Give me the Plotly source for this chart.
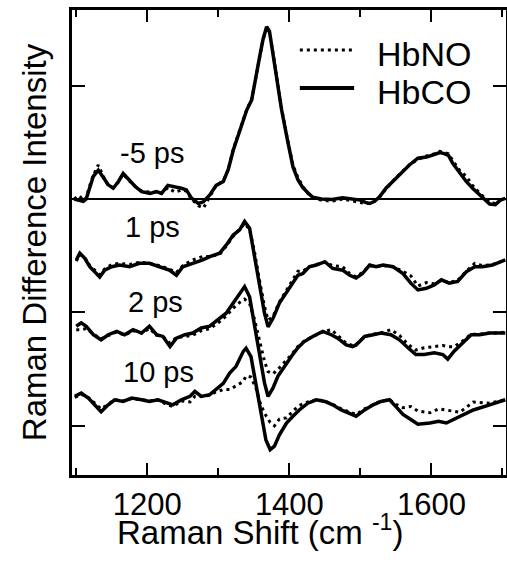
import plotly.graph_objects as go

# ---------------- data (Raman shift, cm-1 ; difference intensity, arb. units) ----------------
x_m5 = [1097, 1104, 1110, 1114, 1118, 1124, 1131, 1138, 1145, 1152, 1159, 1166, 1173, 1183, 1192, 1204,
        1213, 1220, 1229, 1239, 1248, 1255, 1262, 1272, 1279, 1288, 1297, 1307, 1314, 1321, 1327, 1333,
        1340, 1347, 1353, 1358, 1363, 1368, 1372, 1377, 1383, 1389, 1397, 1405, 1412, 1419, 1426, 1433,
        1445, 1460, 1475, 1490, 1500, 1507, 1513, 1520, 1527, 1536, 1546, 1557, 1569, 1581, 1593, 1605,
        1612, 1618, 1624, 1630, 1640, 1649, 1658, 1668, 1676, 1682, 1690, 1697, 1704]
hbco_m5 = [0.0, -0.01, -0.02, 0.0, 0.09, 0.2, 0.255, 0.195, 0.125, 0.095, 0.15, 0.225, 0.18, 0.11, 0.065, 0.05,
           0.065, 0.05, 0.12, 0.11, 0.095, 0.08, 0.01, -0.04, -0.025, 0.035, 0.12, 0.155, 0.26, 0.43, 0.54, 0.65,
           0.785, 0.875, 1.06, 1.25, 1.41, 1.52, 1.48, 1.285, 1.03, 0.79, 0.53, 0.285, 0.17, 0.1, 0.055, 0.015,
           0.0, -0.005, 0.01, 0.0, -0.01, -0.03, -0.04, -0.02, 0.02, 0.095, 0.16, 0.225, 0.3, 0.36, 0.37, 0.395,
           0.41, 0.4, 0.385, 0.315, 0.225, 0.155, 0.095, 0.035, -0.01, -0.045, -0.05, -0.01, 0.005]
hbno_m5 = [0.0, 0.03, -0.01, 0.01, 0.1, 0.21, 0.3, 0.2, 0.12, 0.1, 0.15, 0.22, 0.17, 0.11, 0.07, 0.06,
           0.06, 0.05, 0.1, 0.06, 0.08, 0.07, 0.0, -0.06, -0.08, 0.02, 0.12, 0.16, 0.26, 0.44, 0.55, 0.66,
           0.79, 0.88, 1.07, 1.25, 1.41, 1.51, 1.47, 1.29, 1.04, 0.8, 0.54, 0.3, 0.19, 0.11, 0.05, 0.01,
           -0.01, -0.02, 0.0, -0.02, -0.03, -0.04, -0.04, -0.02, 0.02, 0.09, 0.16, 0.23, 0.3, 0.35, 0.38, 0.4,
           0.42, 0.41, 0.4, 0.34, 0.25, 0.2, 0.12, 0.05, 0.0, -0.03, -0.04, -0.01, 0.0]

x_1 = [1100, 1105, 1112, 1119, 1126, 1133, 1140, 1150, 1161, 1175, 1189, 1203, 1217, 1231, 1241, 1250,
       1264, 1278, 1288, 1302, 1311, 1321, 1330, 1337, 1344, 1351, 1358, 1365, 1370, 1377, 1386, 1398,
       1405, 1412, 1419, 1428, 1438, 1450, 1461, 1475, 1485, 1494, 1503, 1513, 1522, 1532, 1546, 1560,
       1571, 1581, 1593, 1604, 1614, 1625, 1637, 1649, 1661, 1672, 1686, 1698, 1704]
hbco_1 = [0.03, 0.09, 0.045, -0.03, -0.075, -0.12, -0.06, -0.03, -0.015, -0.03, 0.0, 0.0, -0.03, -0.06, -0.105, -0.03,
          0.0, 0.03, 0.06, 0.09, 0.16, 0.25, 0.295, 0.37, 0.31, 0.06, -0.205, -0.44, -0.56, -0.485, -0.35, -0.235,
          -0.16, -0.105, -0.09, -0.03, -0.015, 0.015, -0.045, -0.06, -0.105, -0.13, -0.09, -0.015, -0.03, -0.015, -0.03, -0.09,
          -0.175, -0.235, -0.22, -0.19, -0.145, -0.175, -0.16, -0.075, -0.03, -0.03, -0.015, 0.015, 0.03]
hbno_1 = [0.02, 0.08, 0.05, -0.02, -0.06, -0.1, -0.05, -0.01, 0.0, -0.01, 0.01, 0.0, -0.02, -0.05, -0.08, -0.02,
          0.03, 0.06, 0.06, 0.08, 0.15, 0.24, 0.3, 0.35, 0.3, 0.1, -0.15, -0.38, -0.5, -0.47, -0.34, -0.22,
          -0.15, -0.07, -0.07, -0.03, -0.01, 0.01, -0.02, -0.03, -0.09, -0.12, -0.08, -0.02, -0.03, -0.02, -0.03, -0.07,
          -0.11, -0.2, -0.17, -0.18, -0.15, -0.17, -0.15, -0.07, 0.0, -0.02, -0.01, 0.02, 0.03]

x_2 = [1100, 1107, 1114, 1124, 1135, 1145, 1157, 1168, 1180, 1192, 1203, 1213, 1222, 1232, 1241, 1253,
       1264, 1276, 1288, 1300, 1311, 1321, 1330, 1337, 1344, 1351, 1358, 1365, 1370, 1377, 1384, 1393,
       1403, 1412, 1421, 1433, 1447, 1459, 1468, 1480, 1489, 1494, 1506, 1518, 1529, 1543, 1555, 1567,
       1578, 1590, 1604, 1616, 1623, 1632, 1644, 1656, 1668, 1682, 1696, 1704]
hbco_2 = [0.06, 0.09, 0.06, -0.015, -0.06, -0.015, 0.015, -0.015, 0.03, 0.0, 0.06, -0.015, -0.03, -0.12, -0.045, -0.015,
          0.0, 0.045, 0.06, 0.115, 0.175, 0.265, 0.34, 0.41, 0.32, 0.06, -0.205, -0.44, -0.56, -0.485, -0.38, -0.295,
          -0.205, -0.13, -0.075, -0.03, 0.015, -0.015, -0.045, -0.105, -0.12, -0.105, -0.03, -0.015, 0.0, -0.015, -0.06, -0.13,
          -0.19, -0.19, -0.175, -0.19, -0.23, -0.16, -0.09, -0.015, -0.015, 0.0, 0.0, 0.0]
hbno_2 = [0.03, 0.03, 0.04, -0.01, -0.05, -0.02, 0.01, -0.02, 0.02, 0.0, 0.04, -0.02, -0.03, -0.09, -0.04, -0.03,
          -0.02, 0.02, 0.04, 0.09, 0.15, 0.22, 0.27, 0.3, 0.26, 0.12, -0.08, -0.25, -0.34, -0.36, -0.32, -0.26,
          -0.19, -0.12, -0.07, -0.03, 0.01, 0.03, -0.02, -0.09, -0.11, -0.1, -0.03, -0.01, 0.0, 0.03, -0.02, -0.1,
          -0.15, -0.13, -0.12, -0.11, -0.12, -0.12, -0.07, -0.01, -0.01, 0.0, 0.0, 0.01]

x_10 = [1098, 1107, 1117, 1126, 1135, 1145, 1154, 1166, 1178, 1192, 1203, 1215, 1227, 1236, 1248, 1260,
        1267, 1276, 1288, 1297, 1307, 1316, 1325, 1335, 1339, 1346, 1353, 1360, 1367, 1373, 1379, 1386,
        1396, 1405, 1414, 1426, 1438, 1450, 1461, 1473, 1485, 1494, 1506, 1518, 1529, 1541, 1550, 1560,
        1571, 1581, 1598, 1610, 1621, 1640, 1659, 1682, 1704]
hbco_10 = [0.03, 0.06, 0.015, -0.045, -0.105, -0.045, 0.0, -0.015, 0.015, 0.0, -0.015, 0.0, -0.03, -0.045, 0.0, 0.03,
           0.075, 0.03, 0.045, 0.09, 0.145, 0.235, 0.295, 0.425, 0.455, 0.38, 0.145, -0.12, -0.355, -0.44, -0.41, -0.31,
           -0.205, -0.145, -0.09, -0.03, 0.0, -0.015, -0.045, -0.09, -0.125, -0.145, -0.09, -0.045, -0.015, 0.0, -0.06, -0.13,
           -0.175, -0.215, -0.205, -0.19, -0.205, -0.145, -0.09, -0.045, 0.0]
hbno_10 = [0.02, 0.05, 0.02, -0.03, -0.08, -0.04, 0.0, -0.01, 0.01, 0.0, -0.01, 0.0, -0.04, -0.06, -0.01, -0.02,
           0.03, 0.03, 0.04, 0.07, 0.09, 0.09, 0.12, 0.16, 0.21, 0.2, 0.1, -0.05, -0.14, -0.2, -0.23, -0.17,
           -0.16, -0.1, -0.05, -0.02, 0.0, -0.01, -0.04, -0.08, -0.11, -0.13, -0.08, -0.04, -0.01, 0.0, -0.04, -0.07,
           -0.06, -0.1, -0.115, -0.08, -0.09, -0.11, -0.02, -0.03, 0.0]

delays = ["-5 ps", "1 ps", "2 ps", "10 ps"]
offsets = [0.0, -0.568, -1.183, -1.772]
legend_names = ["HbNO", "HbCO"]

series = [(x_m5, hbno_m5, hbco_m5), (x_1, hbno_1, hbco_1), (x_2, hbno_2, hbco_2), (x_10, hbno_10, hbco_10)]

font_family = "Liberation Sans, Arial, Helvetica, sans-serif"
DOT = "3px,4px"

fig = go.Figure()
# dotted HbNO traces first (under), solid HbCO on top
for i, (xs, no, co) in enumerate(series):
    off = offsets[i]
    fig.add_trace(go.Scatter(x=xs, y=[v + off for v in no], mode="lines", name=legend_names[0],
                             legendgroup="HbNO", showlegend=False,
                             line=dict(color="black", width=3, dash=DOT)))
for i, (xs, no, co) in enumerate(series):
    off = offsets[i]
    fig.add_trace(go.Scatter(x=xs, y=[v + off for v in co], mode="lines", name=legend_names[1],
                             legendgroup="HbCO", showlegend=False,
                             line=dict(color="black", width=3.5)))

# delay labels
label_pos = [(1206, 0.41), (1207, -0.25), (1211, -0.91), (1216, -1.53)]
for txt, (lx, ly) in zip(delays, label_pos):
    fig.add_annotation(x=lx, y=ly, text=txt, showarrow=False,
                       font=dict(size=29, color="black", family=font_family))

# legend (drawn as key lines + labels inside the plot area)
key_rows = [(0.914, DOT, 3), (0.832, "solid", 4)]
for name, (ky, dash, w) in zip(legend_names, key_rows):
    fig.add_shape(type="line", xref="paper", yref="paper", x0=0.525, x1=0.65, y0=ky, y1=ky,
                  line=dict(color="black", width=w, dash=dash))
    fig.add_annotation(xref="paper", yref="paper", x=0.698, y=ky - 0.008, xanchor="left", yanchor="middle",
                       text=name, showarrow=False, font=dict(size=34, color="black", family=font_family))

# x-axis title (placed as in the original, slightly left of centre)
fig.add_annotation(xref="paper", yref="paper", x=0.433, y=-0.118, xanchor="center", yanchor="middle",
                   text="Raman Shift (cm <sup>-1</sup>)", showarrow=False,
                   font=dict(size=33, color="black", family=font_family))

fig.update_layout(
    width=507, height=573,
    margin=dict(l=72, r=1, t=10, b=98, autoexpand=False),
    plot_bgcolor="white", paper_bgcolor="white",
    font=dict(family=font_family, color="black", size=28),
    showlegend=False,
)
fig.update_xaxes(
    range=[1094, 1705], showgrid=False, zeroline=False, automargin=False,
    showline=True, linecolor="black", linewidth=2.5, mirror="ticks",
    tickvals=[1200, 1400, 1600], ticks="inside", ticklen=12, tickwidth=2, tickcolor="black",
    minor=dict(tickvals=[1100, 1300, 1500, 1700], ticks="inside", ticklen=7, tickwidth=2, tickcolor="black"),
    tickfont=dict(size=31, family=font_family),
)
fig.update_yaxes(
    range=[-2.436, 1.668], showgrid=False, automargin=False,
    zeroline=True, zerolinecolor="black", zerolinewidth=1.5,
    showline=True, linecolor="black", linewidth=2.5, mirror="ticks",
    tickvals=[1, 0, -1, -2], ticks="inside", ticklen=13, tickwidth=2, tickcolor="black",
    showticklabels=False,
    title=dict(text="Raman Difference Intensity", font=dict(size=33, family=font_family), standoff=13),
)

fig.write_html("out.html", config={"displayModeBar": False},
               post_script="document.body.style.margin='0px';")
